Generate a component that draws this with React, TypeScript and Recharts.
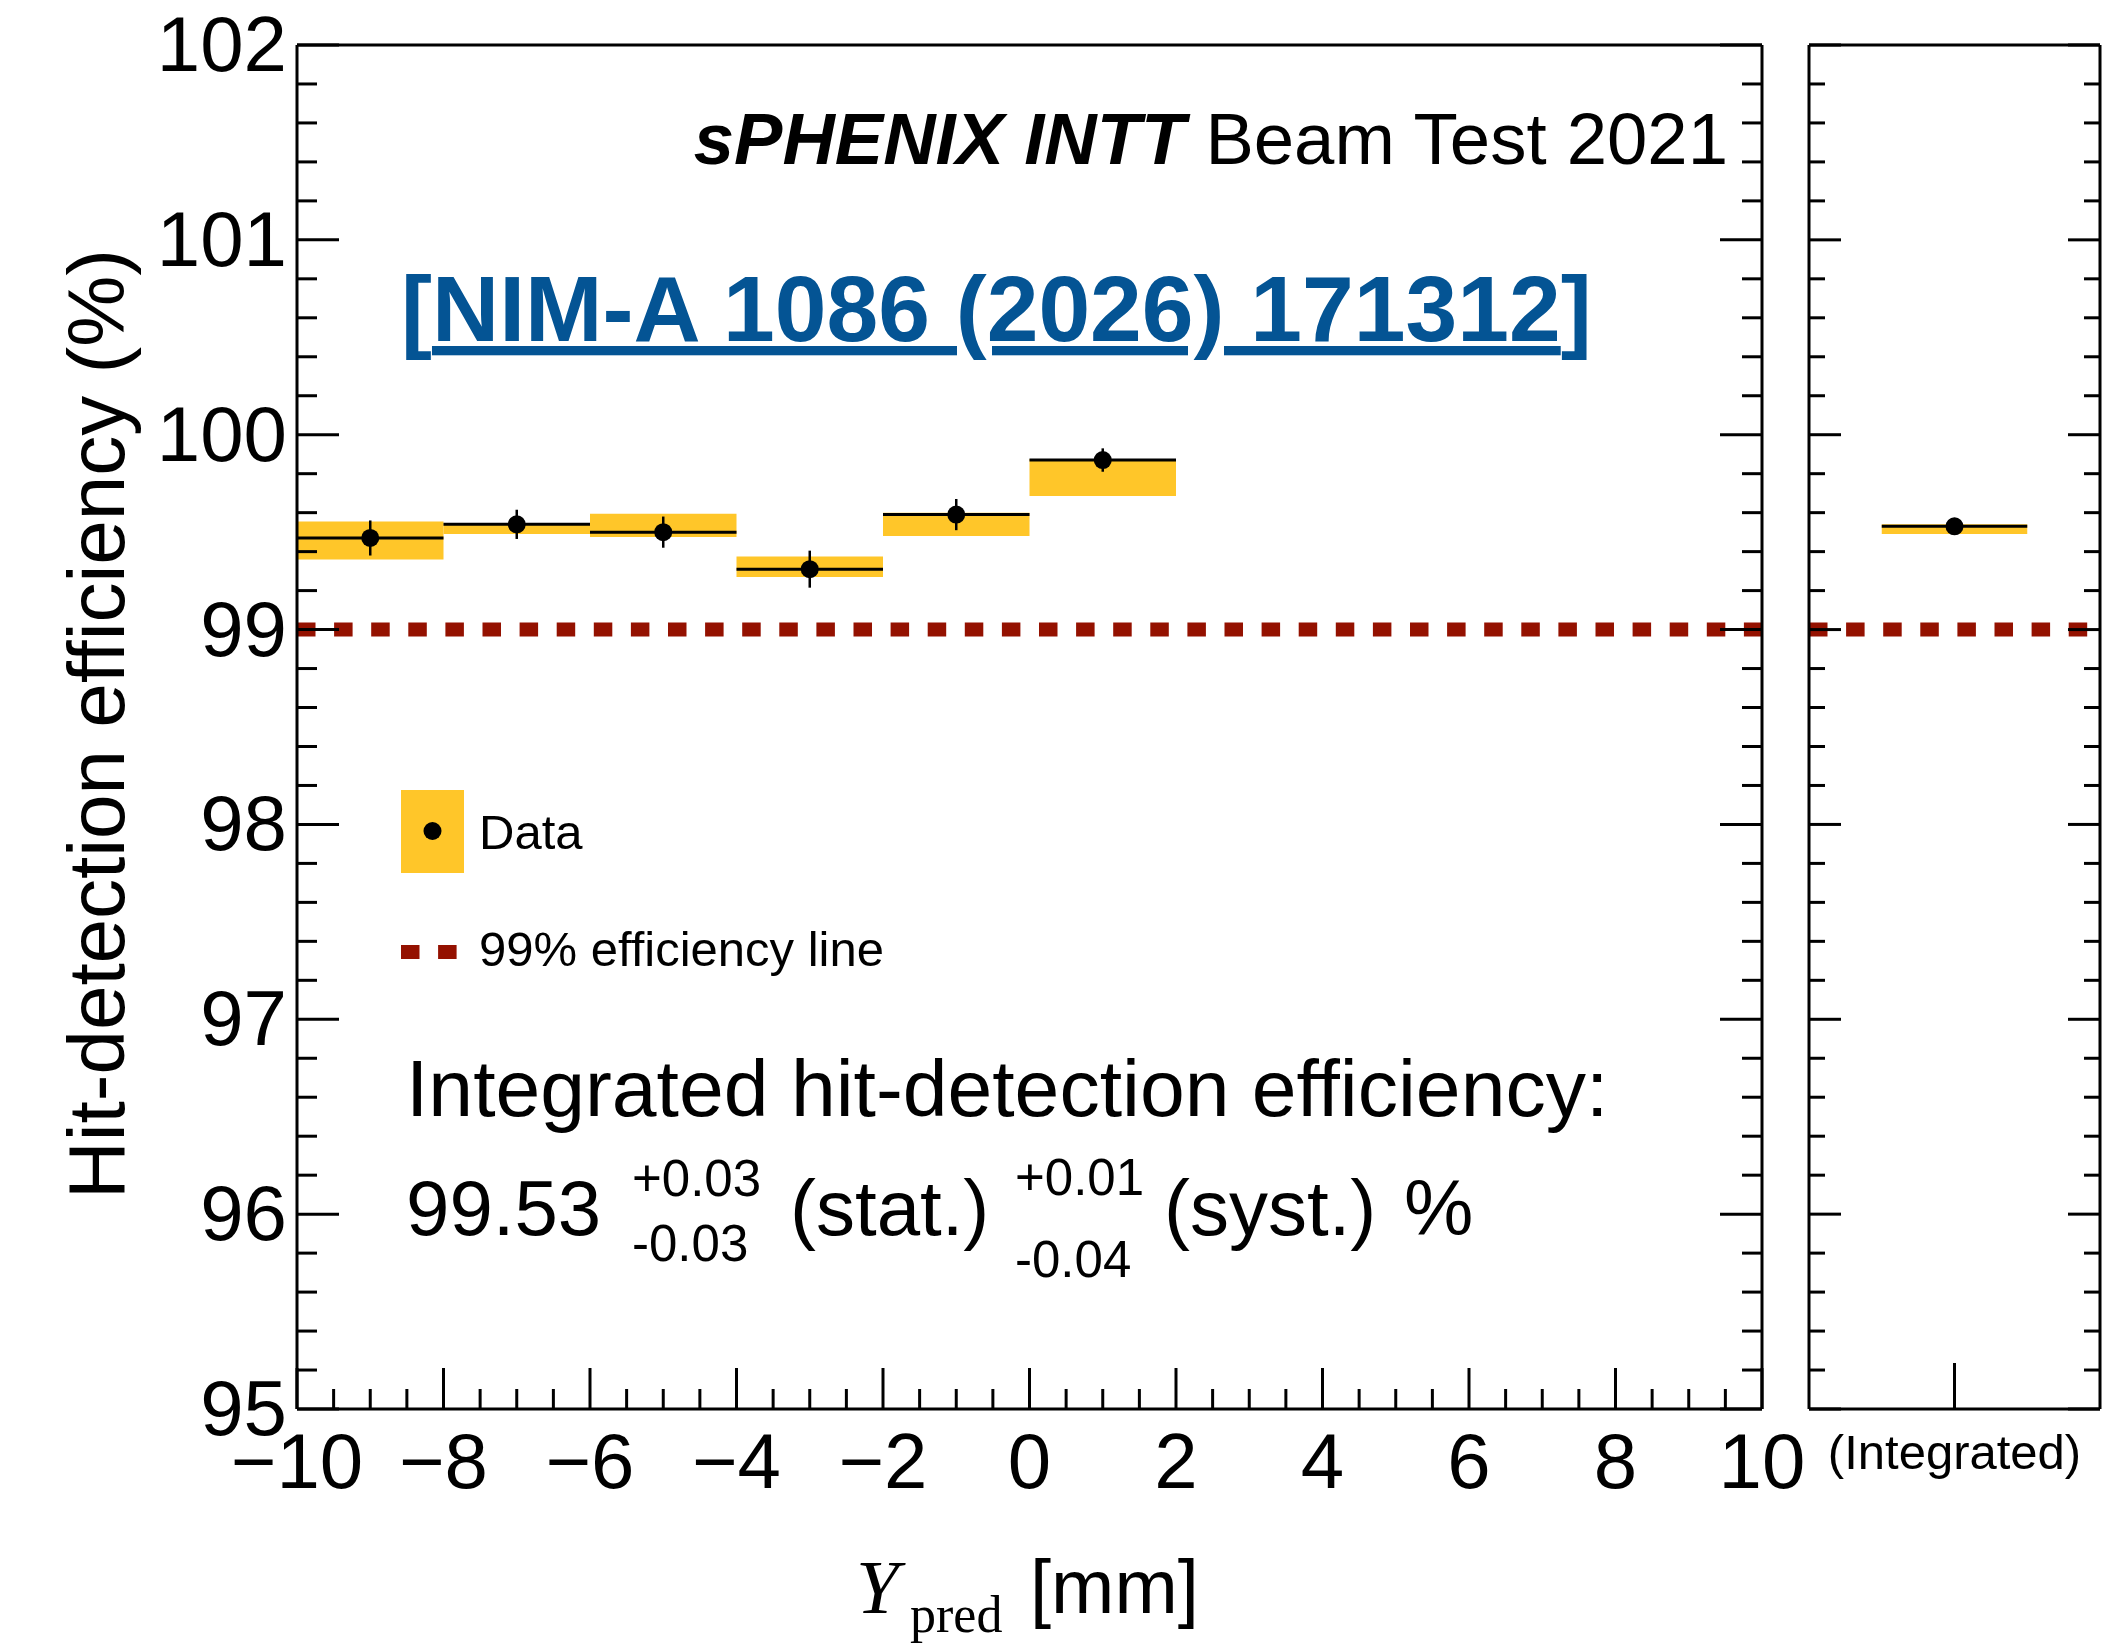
import React from 'react';
import { ComposedChart, XAxis, YAxis, Scatter, ErrorBar, ReferenceArea, ReferenceLine } from 'recharts';

// bins in Y_pred [mm]
const binLow = [-10, -8, -6, -4, -2, 0];
const binHigh = [-8, -6, -4, -2, 0, 2];
// hit-detection efficiency (%) per bin
const effValues = [99.47, 99.54, 99.5, 99.31, 99.59, 99.87];
const statErr = [0.09, 0.075, 0.08, 0.095, 0.08, 0.06];
// systematic band edges
const systLow = [99.36, 99.49, 99.475, 99.27, 99.48, 99.685];
const systHigh = [99.555, 99.545, 99.595, 99.375, 99.6, 99.875];

// integrated result
const intValue = 99.53;
const intStatUp = 0.03;
const intStatDown = 0.03;
const intSystUp = 0.01;
const intSystDown = 0.04;

const effLine = 99;

const yMajor = [95, 96, 97, 98, 99, 100, 101, 102];
const xMajor = [-10, -8, -6, -4, -2, 0, 2, 4, 6, 8, 10];
const intLabel = '(Integrated)';

// minor ticks: 5 per unit on y, 4 per major step on x
const yTicks: number[] = [];
for (let i = 0; i <= 35; i++) yTicks.push(Math.round((95 + i * 0.2) * 10) / 10);
const xTicks: number[] = [];
for (let i = 0; i <= 40; i++) xTicks.push(-10 + i * 0.5);

const SANS = "'Liberation Sans', Arial, Helvetica, sans-serif";
const SERIF = "'Liberation Serif', 'Times New Roman', serif";
const YELLOW = '#ffc629';
const RED = '#941100';
const BLUE = '#045494';
const DASH = '18.5 18.6';

const W = 2120;
const H = 1645;

const fmt = (v: number) => (v < 0 ? '\u2212' + Math.abs(v) : String(v));

// ROOT-like inward ticks
function makeTick(side: string, majors: number[], majLen: number, minLen: number, labels: boolean, fontSize = 78) {
  return (props: any) => {
    const { x, y, payload } = props;
    const v = payload.value;
    const major = majors.some((m) => Math.abs(m - v) < 1e-6);
    const len = major ? majLen : minLen;
    let line;
    if (side === 'left') line = <line x1={x} y1={y} x2={x + len} y2={y} stroke="#000" strokeWidth={3} />;
    else if (side === 'right') line = <line x1={x} y1={y} x2={x - len} y2={y} stroke="#000" strokeWidth={3} />;
    else if (side === 'top') line = <line x1={x} y1={y} x2={x} y2={y + len} stroke="#000" strokeWidth={3} />;
    else line = <line x1={x} y1={y} x2={x} y2={y - len} stroke="#000" strokeWidth={3} />;
    let label = null;
    if (labels && major) {
      if (side === 'left')
        label = (
          <text x={x - 10} y={y + 26} textAnchor="end" fontSize={fontSize} fontFamily={SANS} fill="#000">
            {fmt(v)}
          </text>
        );
      else if (side === 'bottom')
        label = (
          <text x={x} y={y + 79} textAnchor="middle" fontSize={fontSize} fontFamily={SANS} fill="#000">
            {fmt(v)}
          </text>
        );
    }
    return (
      <g>
        {line}
        {label}
      </g>
    );
  };
}

const mainPoints = binLow.map((lo, i) => ({
  x: (lo + binHigh[i]) / 2,
  y: effValues[i],
  xErr: (binHigh[i] - lo) / 2,
  yErr: statErr[i],
}));

const intPoints = [{ x: 0.5, y: intValue, xErr: 0.25, yErr: [intStatDown, intStatUp] }];

const dot = (p: any) => <circle cx={p.cx} cy={p.cy} r={9} fill="#000" />;

const axisLine = { stroke: '#000', strokeWidth: 3 };

export default function App() {
  return (
    <div style={{ position: 'absolute', left: 0, top: 0, width: W, height: H, background: '#fff' }}>
      {/* main panel */}
      <div style={{ position: 'absolute', left: 0, top: 0 }}>
        <ComposedChart width={W} height={H} margin={{ top: 44, left: 296, right: W - 1762 - 1, bottom: H - 1409 - 1 }}>
          <XAxis
            xAxisId="b"
            type="number"
            dataKey="x"
            domain={[-10, 10]}
            ticks={xTicks}
            interval={0}
            height={1}
            tickSize={0}
            tickMargin={0}
            tickLine={false}
            axisLine={axisLine}
            tick={makeTick('bottom', xMajor, 41, 20, true)}
            allowDataOverflow
          />
          <XAxis
            xAxisId="t"
            orientation="top"
            type="number"
            domain={[-10, 10]}
            ticks={xTicks}
            interval={0}
            height={1}
            tickSize={0}
            tickMargin={0}
            tickLine={false}
            axisLine={axisLine}
            tick={makeTick('top', xMajor, 41, 20, false)}
            allowDataOverflow
          />
          <YAxis
            yAxisId="l"
            type="number"
            domain={[95, 102]}
            ticks={yTicks}
            interval={0}
            width={1}
            tickSize={0}
            tickMargin={0}
            tickLine={false}
            axisLine={axisLine}
            tick={makeTick('left', yMajor, 42, 20, true)}
            allowDataOverflow
          />
          <YAxis
            yAxisId="r"
            orientation="right"
            type="number"
            domain={[95, 102]}
            ticks={yTicks}
            interval={0}
            width={1}
            tickSize={0}
            tickMargin={0}
            tickLine={false}
            axisLine={axisLine}
            tick={makeTick('right', yMajor, 42, 20, false)}
            allowDataOverflow
          />
          {binLow.map((lo, i) => (
            <ReferenceArea
              key={'syst' + i}
              xAxisId="b"
              yAxisId="l"
              x1={lo}
              x2={binHigh[i]}
              y1={systLow[i]}
              y2={systHigh[i]}
              fill={YELLOW}
              fillOpacity={1}
              stroke="none"
            />
          ))}
          <ReferenceLine xAxisId="b" yAxisId="l" y={effLine} stroke={RED} strokeWidth={14} strokeDasharray={DASH} />
          <Scatter xAxisId="b" yAxisId="l" data={mainPoints} dataKey="y" shape={dot} isAnimationActive={false}>
            <ErrorBar dataKey="xErr" direction="x" width={0} stroke="#000" strokeWidth={3} />
            <ErrorBar dataKey="yErr" direction="y" width={0} stroke="#000" strokeWidth={2.5} />
          </Scatter>
        </ComposedChart>
      </div>

      {/* integrated panel */}
      <div style={{ position: 'absolute', left: 0, top: 0 }}>
        <ComposedChart width={W} height={H} margin={{ top: 44, left: 1808, right: W - 2100 - 1, bottom: H - 1409 - 1 }}>
          <XAxis
            xAxisId="b"
            type="number"
            dataKey="x"
            domain={[0, 1]}
            ticks={[0.5]}
            interval={0}
            height={1}
            tickSize={0}
            tickMargin={0}
            tickLine={false}
            axisLine={axisLine}
            tick={(p: any) => (
              <g>
                <line x1={p.x} y1={p.y} x2={p.x} y2={p.y - 46} stroke="#000" strokeWidth={3} />
                <text x={p.x} y={p.y + 60} textAnchor="middle" fontSize={49} fontFamily={SANS} fill="#000">
                  {intLabel}
                </text>
              </g>
            )}
            allowDataOverflow
          />
          <XAxis
            xAxisId="t"
            orientation="top"
            type="number"
            domain={[0, 1]}
            ticks={[0.5]}
            interval={0}
            height={1}
            tickSize={0}
            tickMargin={0}
            tickLine={false}
            axisLine={axisLine}
            tick={(p: any) => <line x1={p.x} y1={p.y} x2={p.x} y2={p.y + 46} stroke="#000" strokeWidth={3} />}
            allowDataOverflow
          />
          <YAxis
            yAxisId="l"
            type="number"
            domain={[95, 102]}
            ticks={yTicks}
            interval={0}
            width={1}
            tickSize={0}
            tickMargin={0}
            tickLine={false}
            axisLine={axisLine}
            tick={makeTick('left', yMajor, 32, 16, false)}
            allowDataOverflow
          />
          <YAxis
            yAxisId="r"
            orientation="right"
            type="number"
            domain={[95, 102]}
            ticks={yTicks}
            interval={0}
            width={1}
            tickSize={0}
            tickMargin={0}
            tickLine={false}
            axisLine={axisLine}
            tick={makeTick('right', yMajor, 32, 16, false)}
            allowDataOverflow
          />
          <ReferenceArea
            xAxisId="b"
            yAxisId="l"
            x1={0.25}
            x2={0.75}
            y1={intValue - intSystDown}
            y2={intValue + intSystUp}
            fill={YELLOW}
            fillOpacity={1}
            stroke="none"
          />
          <ReferenceLine xAxisId="b" yAxisId="l" y={effLine} stroke={RED} strokeWidth={14} strokeDasharray={DASH} />
          <Scatter xAxisId="b" yAxisId="l" data={intPoints} dataKey="y" shape={dot} isAnimationActive={false}>
            <ErrorBar dataKey="xErr" direction="x" width={0} stroke="#000" strokeWidth={3} />
            <ErrorBar dataKey="yErr" direction="y" width={0} stroke="#000" strokeWidth={2.5} />
          </Scatter>
        </ComposedChart>
      </div>

      {/* texts, legend */}
      <svg width={W} height={H} style={{ position: 'absolute', left: 0, top: 0, pointerEvents: 'none' }}>
        <text x={1728} y={164} textAnchor="end" fontSize={72.5} fontFamily={SANS} fill="#000">
          <tspan fontWeight="bold" fontStyle="italic">sPHENIX INTT</tspan> Beam Test 2021
        </text>
        <text x={401} y={341} fontSize={93} fontWeight="bold" fontFamily={SANS} fill={BLUE}>
          [<tspan style={{ textDecoration: 'underline' }}>NIM-A 1086 (2026) 171312</tspan>]
        </text>

        {/* legend */}
        <rect x={401} y={790} width={63} height={83} fill={YELLOW} />
        <circle cx={432.5} cy={831} r={9} fill="#000" />
        <text x={479} y={849} fontSize={49} fontFamily={SANS} fill="#000">
          Data
        </text>
        <line x1={401} y1={952} x2={458} y2={952} stroke={RED} strokeWidth={14} strokeDasharray={DASH} />
        <text x={479} y={966} fontSize={49} fontFamily={SANS} fill="#000">
          99% efficiency line
        </text>

        {/* integrated result */}
        <text x={406} y={1116} fontSize={80.5} fontFamily={SANS} fill="#000">
          Integrated hit-detection efficiency:
        </text>
        <text x={406} y={1235} fontSize={78} fontFamily={SANS} fill="#000">
          {intValue.toFixed(2)}
        </text>
        <text x={632} y={1196} fontSize={51} fontFamily={SANS} fill="#000">
          +{intStatUp.toFixed(2)}
        </text>
        <text x={632} y={1261} fontSize={51} fontFamily={SANS} fill="#000">
          -{intStatDown.toFixed(2)}
        </text>
        <text x={790} y={1235} fontSize={78} fontFamily={SANS} fill="#000">
          (stat.)
        </text>
        <text x={1015} y={1195} fontSize={51} fontFamily={SANS} fill="#000">
          +{intSystUp.toFixed(2)}
        </text>
        <text x={1015} y={1277} fontSize={51} fontFamily={SANS} fill="#000">
          -{intSystDown.toFixed(2)}
        </text>
        <text x={1164} y={1235} fontSize={78} fontFamily={SANS} fill="#000" wordSpacing={6}>
          (syst.) %
        </text>

        {/* axis titles */}
        <text transform="translate(124,724) rotate(-90)" textAnchor="middle" fontSize={80} fontFamily={SANS} fill="#000">
          Hit-detection efficiency (%)
        </text>
        <text x={856} y={1613} fontSize={77} fontStyle="italic" fontFamily={SERIF} fill="#000">
          Y
        </text>
        <text x={910} y={1632} fontSize={52} fontFamily={SERIF} fill="#000">
          pred
        </text>
        <text x={1030} y={1613} fontSize={76} fontFamily={SANS} fill="#000">
          [mm]
        </text>
      </svg>
    </div>
  );
}
